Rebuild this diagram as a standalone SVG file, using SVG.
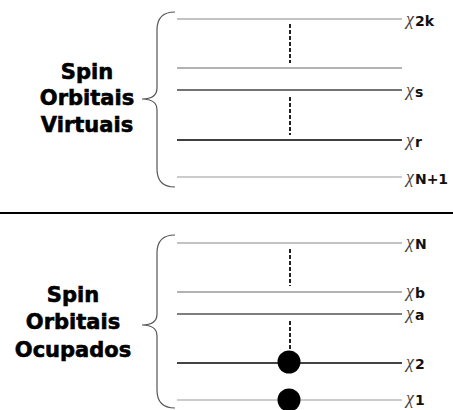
<svg xmlns="http://www.w3.org/2000/svg" width="453" height="410" viewBox="0 0 453 410">
<style>
.lbl{font-family:"DejaVu Sans","Liberation Sans",sans-serif;font-weight:bold;font-size:21px;fill:#000;stroke:#000;stroke-width:0.6;text-anchor:middle}
.chi{font-family:"Liberation Serif","DejaVu Serif",serif;font-style:italic;font-size:18px;fill:#444}
.sub{font-family:"DejaVu Sans","Liberation Sans",sans-serif;font-weight:bold;font-size:14px;fill:#111}
.brace{fill:none;stroke:#555;stroke-width:1.2}
.dash{stroke:#222;stroke-width:2;stroke-dasharray:4,2}
</style>
<rect width="453" height="410" fill="#fff"/>
<g id="virtuais">
<text class="lbl" x="87" y="79">Spin</text>
<text class="lbl" x="87" y="105">Orbitais</text>
<text class="lbl" x="87" y="132">Virtuais</text>
<path class="brace" d="M175,12 Q157,12 157,30 L157,88 Q157,99 142,99 Q157,99 157,110 L157,169 Q157,187 175,187"/>
</g>
<g id="ocupados">
<text class="lbl" x="73" y="302">Spin</text>
<text class="lbl" x="73" y="329">Orbitais</text>
<text class="lbl" x="73" y="357">Ocupados</text>
<path class="brace" d="M175,235 Q157,235 157,253 L157,314 Q157,325 142,325 Q157,325 157,336 L157,390 Q157,408 175,408"/>
</g>
<g id="connectors">
<line x1="0" y1="213" x2="453" y2="213" stroke="#000" stroke-width="2.2"/>
<line x1="177" y1="19" x2="402" y2="19" stroke="#888" stroke-width="1.2"/>
<line x1="177" y1="68" x2="402" y2="68" stroke="#666" stroke-width="1"/>
<line x1="177" y1="90" x2="402" y2="90" stroke="#444" stroke-width="1.4"/>
<line x1="177" y1="140" x2="402" y2="140" stroke="#000" stroke-width="1.4"/>
<line x1="177" y1="177" x2="402" y2="177" stroke="#999" stroke-width="1.2"/>
<line class="dash" x1="290" y1="24" x2="290" y2="63"/>
<line class="dash" x1="290" y1="97" x2="290" y2="135"/>
<line x1="177" y1="243" x2="402" y2="243" stroke="#888" stroke-width="1.2"/>
<line x1="177" y1="292" x2="402" y2="292" stroke="#666" stroke-width="1"/>
<line x1="177" y1="314" x2="402" y2="314" stroke="#555" stroke-width="1.4"/>
<line x1="177" y1="363" x2="402" y2="363" stroke="#444" stroke-width="1.8"/>
<line x1="177" y1="400" x2="402" y2="400" stroke="#999" stroke-width="1.2"/>
<line class="dash" x1="290" y1="249" x2="290" y2="286"/>
<line class="dash" x1="290" y1="321" x2="290" y2="352"/>
</g>
<g id="electrons">
<circle cx="289" cy="362" r="11.5" fill="#000"/>
<circle cx="289" cy="400" r="11.5" fill="#000"/>
</g>
<g id="labels">
<text x="406" y="25"><tspan class="chi">χ</tspan><tspan class="sub" dx="1" dy="1">2k</tspan></text>
<text x="406" y="96"><tspan class="chi">χ</tspan><tspan class="sub" dx="1" dy="1">s</tspan></text>
<text x="406" y="146"><tspan class="chi">χ</tspan><tspan class="sub" dx="1" dy="1">r</tspan></text>
<text x="406" y="183"><tspan class="chi">χ</tspan><tspan class="sub" dx="1" dy="1">N+1</tspan></text>
<text x="406" y="248"><tspan class="chi">χ</tspan><tspan class="sub" dx="1" dy="1">N</tspan></text>
<text x="406" y="297"><tspan class="chi">χ</tspan><tspan class="sub" dx="1" dy="1">b</tspan></text>
<text x="406" y="319"><tspan class="chi">χ</tspan><tspan class="sub" dx="1" dy="1">a</tspan></text>
<text x="406" y="368"><tspan class="chi">χ</tspan><tspan class="sub" dx="1" dy="1">2</tspan></text>
<text x="406" y="404"><tspan class="chi">χ</tspan><tspan class="sub" dx="1" dy="1">1</tspan></text>
</g>
</svg>
